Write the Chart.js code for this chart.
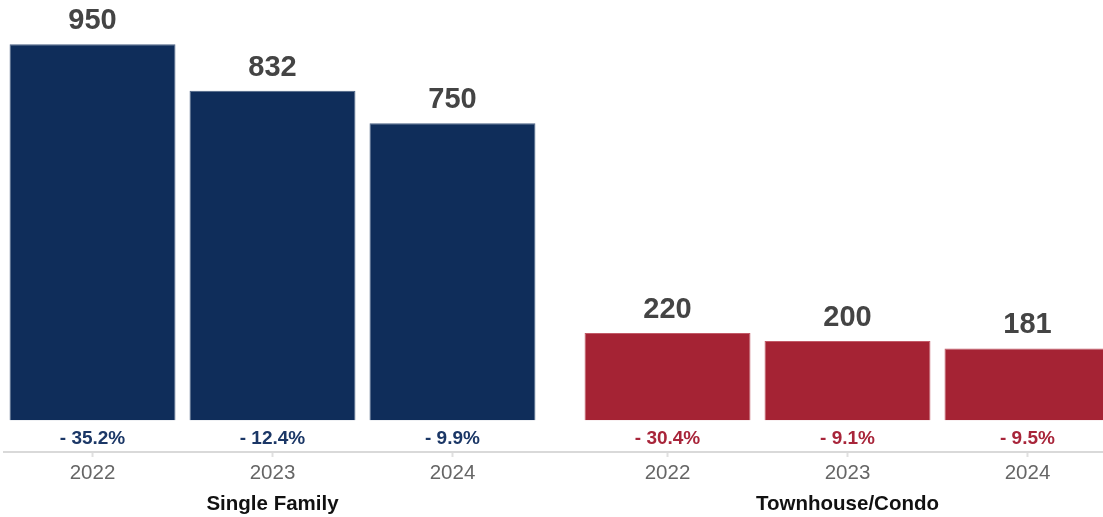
<!DOCTYPE html>
<html>
<head>
<meta charset="utf-8">
<script src="https://cdn.jsdelivr.net/npm/chart.js@4/dist/chart.umd.min.js"></script>
<style>
  html, body { margin: 0; padding: 0; background: #fff; overflow: hidden; }
  #wrap { position: absolute; left: -15px; top: 0; width: 1150px; height: 517px; }
</style>
</head>
<body>
<div id="wrap"><canvas id="chart"></canvas></div>
<script>
// property types on the x axis, years as the grouped series
const categories = ['Single Family', 'Townhouse/Condo'];
const years = ['2022', '2023', '2024'];
const sales2022 = [950, 220];
const sales2023 = [832, 200];
const sales2024 = [750, 181];
const change2022 = [-35.2, -30.4];
const change2023 = [-12.4, -9.1];
const change2024 = [-9.9, -9.5];

const barColors = ['#0f2d5a', '#a52334'];
const edgeColors = ['#4a6183', '#c25a67'];
const textColors = ['#1b3766', '#a8253a'];

const seriesValues = [sales2022, sales2023, sales2024];
const seriesChanges = [change2022, change2023, change2024];

const fmtChange = (v) => (v < 0 ? '- ' : '+ ') + Math.abs(v).toFixed(1) + '%';

const labelPlugin = {
  id: 'barLabels',
  afterDatasetsDraw(chart) {
    const ctx = chart.ctx;
    const ys = chart.scales.y;
    const zero = ys.getPixelForValue(0);
    const axisY = chart.chartArea.bottom;
    ctx.save();

    // axis line
    ctx.strokeStyle = '#d9d9d9';
    ctx.lineWidth = 2;
    ctx.beginPath();
    ctx.moveTo(18, axisY + 1);
    ctx.lineTo(chart.width, axisY + 1);
    ctx.stroke();

    ctx.textAlign = 'center';
    ctx.textBaseline = 'alphabetic';
    categories.forEach((cat, j) => {
      let midX = 0;
      chart.data.datasets.forEach((ds, i) => {
        const bar = chart.getDatasetMeta(i).data[j];
        if (i === 1) midX = bar.x;

        // value above the bar
        ctx.fillStyle = '#444444';
        ctx.font = 'bold 29px "Liberation Sans", Arial, sans-serif';
        ctx.fillText(String(seriesValues[i][j]), bar.x, bar.y - 15);

        // year-over-year change
        ctx.fillStyle = textColors[j];
        ctx.font = 'bold 19px "Liberation Sans", Arial, sans-serif';
        ctx.fillText(fmtChange(seriesChanges[i][j]), bar.x, zero + 24);

        // tick mark and year
        ctx.strokeStyle = '#e0e0e0';
        ctx.lineWidth = 2;
        ctx.beginPath();
        ctx.moveTo(bar.x, axisY + 2);
        ctx.lineTo(bar.x, axisY + 6);
        ctx.stroke();
        ctx.fillStyle = '#666666';
        ctx.font = '20.5px "Liberation Sans", Arial, sans-serif';
        ctx.fillText(ds.label, bar.x, axisY + 28);
      });

      ctx.fillStyle = '#111111';
      ctx.font = 'bold 20.5px "Liberation Sans", Arial, sans-serif';
      ctx.fillText(cat, midX, axisY + 59);
    });
    ctx.restore();
  }
};

new Chart(document.getElementById('chart'), {
  type: 'bar',
  data: {
    labels: categories,
    datasets: years.map((yr, i) => ({
      label: yr,
      data: seriesValues[i].map(v => [0, v]),
      backgroundColor: (c) => barColors[c.dataIndex],
      borderColor: (c) => edgeColors[c.dataIndex],
      borderWidth: { left: 1, right: 1, top: 1, bottom: 0 },
      borderSkipped: false,
      categoryPercentage: 0.939,
      barPercentage: 0.922
    }))
  },
  options: {
    responsive: true,
    maintainAspectRatio: false,
    animation: false,
    layout: { padding: { top: 0, bottom: 66, left: 0, right: 0 } },
    plugins: {
      legend: { display: false },
      tooltip: { enabled: false }
    },
    scales: {
      x: { display: false },
      y: { display: false, min: -78, max: 1061.5 }
    }
  },
  plugins: [labelPlugin]
});
</script>
</body>
</html>
